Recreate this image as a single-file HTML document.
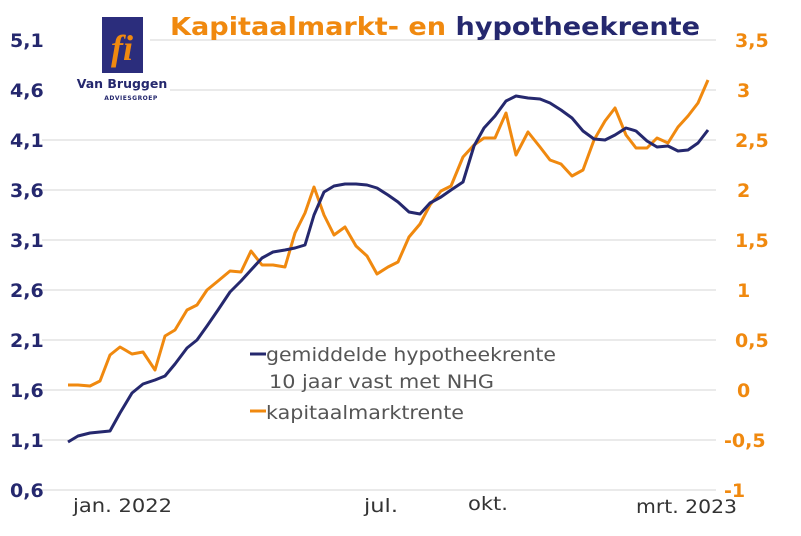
<!DOCTYPE html>
<html><head><meta charset="utf-8"><style>
html,body{margin:0;padding:0;background:#fff;}
svg{display:block;}
</style></head><body>
<svg width="801" height="536" viewBox="0 0 801 536" xmlns="http://www.w3.org/2000/svg" font-family="Verdana, 'DejaVu Sans', sans-serif">
<g stroke="#e3e3e3" stroke-width="1.5">
<line x1="150" y1="40" x2="716" y2="40"/>
<line x1="170" y1="90" x2="716" y2="90"/>
<line x1="42" y1="140" x2="716" y2="140"/>
<line x1="42" y1="190" x2="716" y2="190"/>
<line x1="42" y1="240" x2="716" y2="240"/>
<line x1="42" y1="290" x2="716" y2="290"/>
<line x1="42" y1="340" x2="716" y2="340"/>
<line x1="42" y1="390" x2="716" y2="390"/>
<line x1="42" y1="440" x2="716" y2="440"/>
<line x1="42" y1="490" x2="716" y2="490"/>
</g>
<g fill="#25286e" font-weight="bold" font-size="19">
<text x="10" y="47">5,1</text><text x="10" y="97">4,6</text><text x="10" y="147">4,1</text>
<text x="10" y="197">3,6</text><text x="10" y="247">3,1</text><text x="10" y="297">2,6</text>
<text x="10" y="347">2,1</text><text x="10" y="397">1,6</text><text x="10" y="447">1,1</text>
<text x="10" y="497">0,6</text>
</g>
<g fill="#f0890f" font-weight="bold" font-size="19">
<text x="735" y="47">3,5</text><text x="737" y="97">3</text><text x="735" y="147">2,5</text>
<text x="737" y="197">2</text><text x="735" y="247">1,5</text><text x="737" y="297">1</text>
<text x="735" y="347">0,5</text><text x="737" y="397">0</text><text x="724" y="447">-0,5</text>
<text x="724" y="497">-1</text>
</g>
<g fill="#333" font-size="19" font-family="'DejaVu Sans','Liberation Sans',sans-serif">
<text x="73" y="512" textLength="99" lengthAdjust="spacingAndGlyphs">jan. 2022</text>
<text x="364" y="512" textLength="34" lengthAdjust="spacingAndGlyphs">jul.</text>
<text x="468" y="510" textLength="40" lengthAdjust="spacingAndGlyphs">okt.</text>
<text x="636" y="513" textLength="101" lengthAdjust="spacingAndGlyphs">mrt. 2023</text>
</g>
<rect x="102" y="17" width="41" height="56" fill="#2b2d7c"/>
<text x="122" y="60" fill="#f0890f" font-size="36" font-style="italic" font-weight="bold" text-anchor="middle" font-family="'Liberation Serif',serif">fi</text>
<text x="122" y="88" fill="#25286e" font-size="12.5" font-weight="bold" text-anchor="middle">Van Bruggen</text>
<text x="131" y="100" fill="#25286e" font-size="6" font-weight="bold" text-anchor="middle" letter-spacing="0.5">ADVIESGROEP</text>
<text x="170" y="35" font-size="25" font-weight="bold" textLength="530" lengthAdjust="spacingAndGlyphs"><tspan fill="#f0890f">Kapitaalmarkt- en </tspan><tspan fill="#25286e">hypotheekrente</tspan></text>
<polyline fill="none" stroke="#f0890f" stroke-width="3" stroke-linejoin="round" points="68,385 78,385 90,386 100,381 110,355 120,347 132,354 143,352 155,370 165,336 175,330 187,310 197,305 207,290 218,281 230,271 241,272 251,251 262,265 273,265 285,267 295,233 305,213 314,187 324,215 334,235 345,227 356,246 367,256 377,274 388,267 398,262 409,237 420,224 430,205 441,191 451,186 463,157 474,145 484,138 495,138 506,113 516,155 528,132 540,147 550,160 561,164 572,176 583,170 594,140 605,121 615,108 626,135 636,148 647,148 657,138 668,143 678,127 688,116 698,103 708,80"/>
<polyline fill="none" stroke="#25286e" stroke-width="3" stroke-linejoin="round" points="68,442 78,436 90,433 100,432 110,431 120,413 132,393 143,384 155,380 165,376 175,364 187,348 197,340 207,326 218,310 230,292 241,281 251,270 262,258 273,252 285,250 295,248 305,245 314,215 324,192 334,186 345,184 356,184 367,185 377,188 388,195 398,202 409,212 420,214 430,203 441,197 451,190 463,182 474,146 484,128 495,116 506,101 516,96 528,98 540,99 550,103 561,110 572,118 583,131 594,139 605,140 615,135 626,128 636,131 647,141 657,147 668,146 678,151 688,150 698,143 708,130"/>
<line x1="250" y1="354" x2="266" y2="354" stroke="#25286e" stroke-width="3"/>
<line x1="250" y1="411" x2="266" y2="411" stroke="#f0890f" stroke-width="3"/>
<g fill="#555" font-size="19" font-family="'DejaVu Sans','Liberation Sans',sans-serif">
<text x="266" y="361" textLength="290" lengthAdjust="spacingAndGlyphs">gemiddelde hypotheekrente</text>
<text x="269" y="388" textLength="225" lengthAdjust="spacingAndGlyphs">10 jaar vast met NHG</text>
<text x="266" y="419" textLength="198" lengthAdjust="spacingAndGlyphs">kapitaalmarktrente</text>
</g>
</svg>
</body></html>
